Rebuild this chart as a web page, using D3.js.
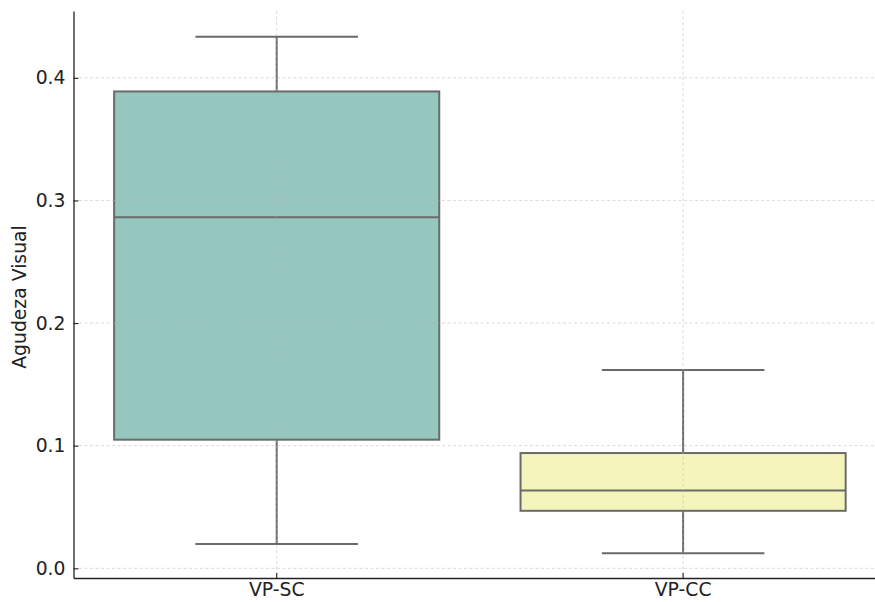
<!DOCTYPE html>
<html><head><meta charset="utf-8">
<script src="https://cdn.jsdelivr.net/npm/d3@7"></script>
<style>body{margin:0;background:#fff;} text{font-family:"DejaVu Sans",sans-serif;}</style>
</head><body>
<svg id="chart" width="875" height="602"></svg>
<script>
const categories = ["VP-SC", "VP-CC"];
const whiskerLow = [0.0199, 0.0123];
const q1 = [0.1049, 0.0469];
const median = [0.2864, 0.0635];
const q3 = [0.3889, 0.0940];
const whiskerHigh = [0.4336, 0.1617];
const yTicks = [0.0, 0.1, 0.2, 0.3, 0.4];
const fills = ["#96c7bf", "#f5f5bb"];
const yLabel = "Agudeza Visual";

const svg = d3.select("#chart");
const pLeft = 73.5, pTop = 11, pBottom = 578, pRight = 886.3;
const fs = 18.8;
const x = d3.scaleBand().domain(categories).range([pLeft, pRight]).paddingInner(0).paddingOuter(0);
const y = d3.scaleLinear().domain([-0.0079, 0.4545]).range([pBottom, pTop]);
const lineCol = "#6a6a6a";
const data = categories.map((c, i) => ({c, lo: whiskerLow[i], q1: q1[i], med: median[i], q3: q3[i], hi: whiskerHigh[i], fill: fills[i]}));

const bw = x.bandwidth() * 0.8;
const g = svg.append("g");
data.forEach(d => {
  const cx = x(d.c) + x.bandwidth() / 2;
  g.append("line").attr("x1", cx).attr("x2", cx).attr("y1", y(d.q3)).attr("y2", y(d.hi)).attr("stroke", lineCol).attr("stroke-width", 2);
  g.append("line").attr("x1", cx).attr("x2", cx).attr("y1", y(d.q1)).attr("y2", y(d.lo)).attr("stroke", lineCol).attr("stroke-width", 2);
  g.append("line").attr("x1", cx - bw / 4).attr("x2", cx + bw / 4).attr("y1", y(d.hi)).attr("y2", y(d.hi)).attr("stroke", lineCol).attr("stroke-width", 2);
  g.append("line").attr("x1", cx - bw / 4).attr("x2", cx + bw / 4).attr("y1", y(d.lo)).attr("y2", y(d.lo)).attr("stroke", lineCol).attr("stroke-width", 2);
  g.append("rect").attr("x", cx - bw / 2).attr("y", y(d.q3)).attr("width", bw).attr("height", y(d.q1) - y(d.q3))
    .attr("fill", d.fill).attr("stroke", lineCol).attr("stroke-width", 2);
  g.append("line").attr("x1", cx - bw / 2).attr("x2", cx + bw / 2).attr("y1", y(d.med)).attr("y2", y(d.med)).attr("stroke", lineCol).attr("stroke-width", 2);
});

const grid = svg.append("g").attr("stroke", "#b0b0b0").attr("stroke-opacity", 0.6).attr("stroke-width", 0.8).attr("stroke-dasharray", "3,2.5");
yTicks.forEach(t => grid.append("line").attr("x1", pLeft).attr("x2", 875).attr("y1", y(t)).attr("y2", y(t)));
categories.forEach(c => { const cx = x(c) + x.bandwidth() / 2; grid.append("line").attr("x1", cx).attr("x2", cx).attr("y1", pTop).attr("y2", pBottom); });

const yAxis = d3.axisLeft(y).tickValues(yTicks).tickFormat(d3.format(".1f")).tickSizeInner(-5).tickSizeOuter(0).tickPadding(8);
const ya = svg.append("g").attr("transform", `translate(${pLeft},0)`).call(yAxis);
ya.select(".domain").attr("stroke", "#222").attr("stroke-width", 1.3);
ya.selectAll(".tick line").attr("stroke", "#222").attr("stroke-width", 1.1);
ya.selectAll("text").attr("font-size", fs).attr("fill", "#222").attr("font-family", "DejaVu Sans");

const xAxis = d3.axisBottom(x).tickSizeInner(-5).tickSizeOuter(0).tickPadding(5);
const xa = svg.append("g").attr("transform", `translate(0,${pBottom})`).call(xAxis);
xa.select(".domain").attr("stroke", "#222").attr("stroke-width", 1.3);
xa.selectAll(".tick line").attr("stroke", "#222").attr("stroke-width", 1.1);
xa.selectAll("text").attr("font-size", fs).attr("fill", "#222").attr("font-family", "DejaVu Sans");

svg.append("text").attr("transform", `translate(26,297) rotate(-90)`)
  .attr("text-anchor", "middle").attr("font-size", fs).attr("fill", "#222").text(yLabel);
</script>
</body></html>
